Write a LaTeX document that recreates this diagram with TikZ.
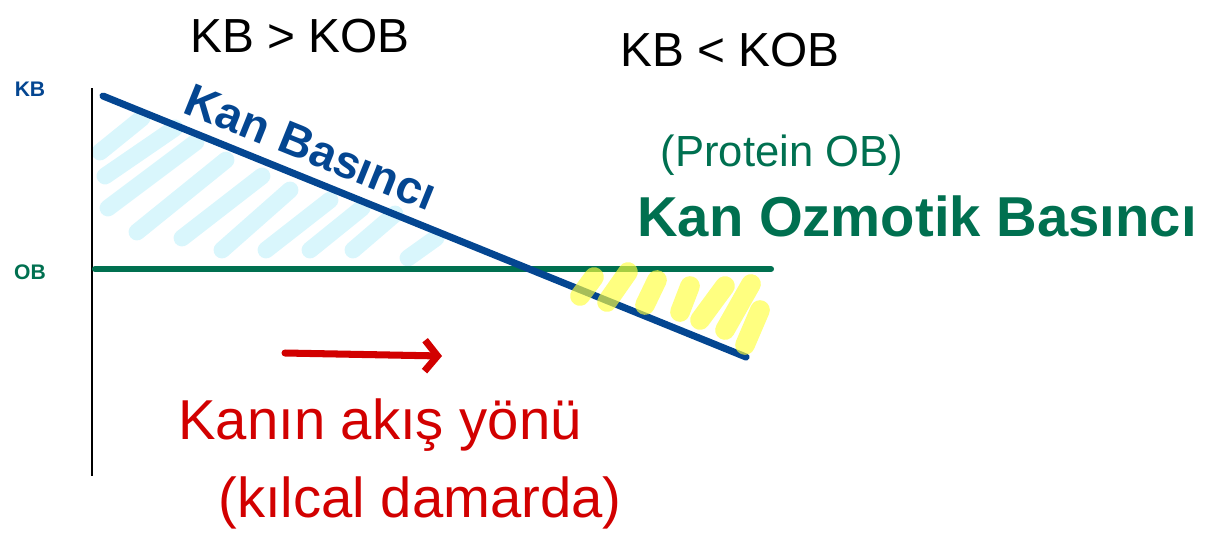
\documentclass[tikz,border=0pt]{standalone}
\usepackage{fontspec}
\setmainfont{Liberation Sans}
\usetikzlibrary{arrows.meta}
\definecolor{kbblue}{RGB}{4, 70, 145}
\definecolor{obgreen}{RGB}{0, 112, 80}
\definecolor{flowred}{RGB}{210, 0, 0}
\definecolor{hatchcyan}{RGB}{217, 246, 252}
\definecolor{hatchyellow}{RGB}{255, 255, 60}

\begin{document}
\begin{tikzpicture}[x=0.025cm, y=-0.025cm,
    cyanhatch/.style={line width=12pt, line cap=round, hatchcyan},
    yellowhatch/.style={line width=14pt, line cap=round, hatchyellow, opacity=0.65},
    bigtext/.style={font=\fontsize{34}{40}\selectfont},
    redtext/.style={font=\fontsize{40}{48}\selectfont, flowred}]
        \useasboundingbox (0,0) rectangle (1208,549);

        % Axis and pressure lines
        \coordinate (axtop) at (92,88);
        \coordinate (axbot) at (92,476);
        \coordinate (kbstart) at (103,96);
        \coordinate (kbend) at (746,357);
        \coordinate (obstart) at (95,269);
        \coordinate (obend) at (771,269);

        % Hatching where KB > KOB
        \draw[cyanhatch] (100,152) -- (142,118);
        \draw[cyanhatch] (105,176) -- (175,128);
        \draw[cyanhatch] (108,208) -- (196,142);
        \draw[cyanhatch] (137,232) -- (226,160);
        \draw[cyanhatch] (182,238) -- (262,176);
        \draw[cyanhatch] (222,250) -- (290,190);
        \draw[cyanhatch] (266,250) -- (330,200);
        \draw[cyanhatch] (310,250) -- (362,208);
        \draw[cyanhatch] (353,250) -- (395,214);
        \draw[cyanhatch] (408,258) -- (436,238);

        \draw[line width=1.8pt] (axtop) -- (axbot);
        \draw[line width=4.3pt, obgreen, line cap=round] (obstart) -- (obend);
        \draw[line width=5pt, kbblue, line cap=round] (kbstart) -- (kbend);

        % Hatching where KB < KOB
        \draw[yellowhatch] (580,296) -- (594,277);
        \draw[yellowhatch] (607,302) -- (628,272);
        \draw[yellowhatch] (645,305) -- (657,280);
        \draw[yellowhatch] (680,312) -- (690,286);
        \draw[yellowhatch] (700,320) -- (725,286);
        \draw[yellowhatch] (725,330) -- (751,284);
        \draw[yellowhatch] (745,345) -- (760,310);

        % Labels
        \node[bigtext] (gtlabel) at (300,36) {KB > KOB};
        \node[bigtext] (ltlabel) at (730,50) {KB < KOB};
        \node[font=\fontsize{15}{18}\selectfont\bfseries, kbblue] (kbtick) at (30,89) {KB};
        \node[font=\fontsize{15}{18}\selectfont\bfseries, obgreen] (obtick) at (30,272) {OB};
        \node[font=\fontsize{33}{40}\selectfont\bfseries, kbblue, rotate=-22, anchor=base] (kblabel) at (305,162) {Kan Basıncı};
        \node[font=\fontsize{31}{37}\selectfont, obgreen] (protlabel) at (782,155) {(Protein OB)};
        \node[font=\fontsize{40}{48}\selectfont\bfseries, obgreen] (oblabel) at (917,216) {Kan Ozmotik Basıncı};

        % Flow direction
        \coordinate (flowstart) at (285,353);
        \coordinate (flowend) at (442,356);
        \draw[line width=5pt, flowred, line cap=round, -{Straight Barb[length=9pt, width=22pt]}] (flowstart) -- (flowend);
        \node[redtext] (flowlabel) at (380,425) {Kanın akış yönü};
        \node[redtext] (veinlabel) at (420,503) {(kılcal damarda)};
\end{tikzpicture}
\end{document}
